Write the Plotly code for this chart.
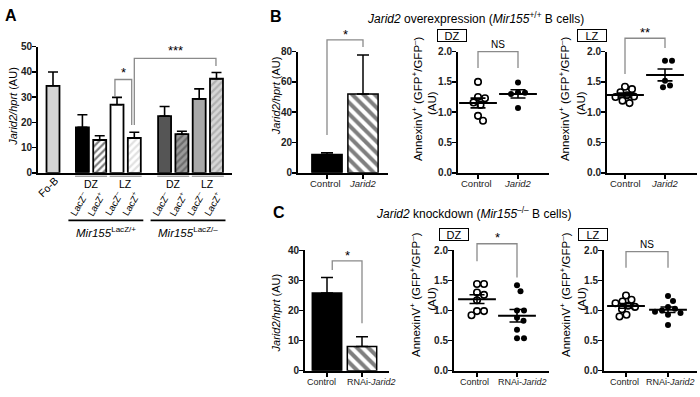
import numpy as np
import plotly.graph_objects as go

W, H = 700, 397
FONT = "Liberation Sans, Arial, sans-serif"

# ---------------- data ----------------
# Panel A : Jarid2/hprt by population
a_labels = ["Fo-B", "LacZ–", "LacZ+", "LacZ–", "LacZ+", "LacZ–", "LacZ+", "LacZ–", "LacZ+"]
a_zones = ["", "DZ", "DZ", "LZ", "LZ", "DZ", "DZ", "LZ", "LZ"]
a_geno = ["", "<i>Mir155</i><sup>LacZ/+</sup>", "<i>Mir155</i><sup>LacZ/–</sup>"]
a_means = [34.5, 18.0, 13.0, 27.0, 13.8, 22.5, 15.3, 29.3, 37.3]
a_sem = [5.5, 5.0, 1.7, 2.9, 2.3, 3.8, 1.2, 4.0, 2.5]

# Panel B : overexpression
b_labels = ["Control", "<i>Jarid2</i>"]
b_bar_means = [12.0, 52.0]
b_bar_sem = [1.3, 25.8]
b_dz_control = [1.50, 1.25, 1.23, 1.16, 1.12, 0.94, 0.86]
b_dz_jarid2 = [1.49, 1.33, 1.32, 1.30, 1.07]
b_lz_control = [1.42, 1.38, 1.33, 1.28, 1.26, 1.25, 1.19, 1.15]
b_lz_jarid2 = [1.85, 1.85, 1.52, 1.44, 1.41]

# Panel C : knockdown
c_labels = ["Control", "RNAi-<i>Jarid2</i>"]
c_bar_means = [25.8, 8.0]
c_bar_sem = [5.2, 3.3]
c_dz_control = [1.44, 1.44, 1.30, 1.26, 1.17, 0.99, 0.99, 0.92]
c_dz_rnai = [1.42, 1.32, 1.00, 1.00, 0.88, 0.83, 0.68, 0.54, 0.54]
c_lz_control = [1.25, 1.18, 1.15, 1.12, 1.08, 1.06, 1.02, 0.93, 0.90]
c_lz_rnai = [1.24, 1.16, 1.06, 1.03, 1.00, 0.98, 0.96, 0.93, 0.76]

# ---------------- geometry (pixels) ----------------
def fx(px):
    return px / W

def fy(py):
    return 1 - py / H

# A bar positions (category index with gaps between groups)
a_x = [0.0] + [i + 0.7 for i in range(1, 5)] + [i + 1.45 for i in range(5, 9)]

panels = {}
def add_panel(name, ax, x0, x1, yt, yb, xr, yr):
    panels[name] = dict(ax=ax, x0=x0, x1=x1, yt=yt, yb=yb, xr=xr, yr=yr)

def cat_range(x0, x1, c0, c1):
    u = c1 - c0
    return ((x0 - c0) / u, (x1 - c0) / u)

add_panel("A", 1, 38, 232, 42, 172, ((38 - 53) / 17.3, (232 - 53) / 17.3), (0, 50))
add_panel("B1", 2, 298, 388, 47, 172, cat_range(298, 388, 327, 363), (0, 80))
add_panel("B2", 3, 458, 549, 47, 172, cat_range(458, 549, 478, 518), (0, 2))
add_panel("B3", 4, 607, 697, 47, 172, cat_range(607, 697, 625, 665), (0, 2))
add_panel("C1", 5, 305, 389, 252, 376, cat_range(305, 389, 327, 362), (0, 40))
add_panel("C2", 6, 454, 549, 252, 376, cat_range(454, 549, 477, 517), (0, 2))
add_panel("C3", 7, 604, 697, 252, 376, cat_range(604, 697, 626, 668), (0, 2))

def px_of(p, xv):
    P = panels[p]
    return P["x0"] + (xv - P["xr"][0]) / (P["xr"][1] - P["xr"][0]) * (P["x1"] - P["x0"])

def py_of(p, yv):
    P = panels[p]
    return P["yb"] - (yv - P["yr"][0]) / (P["yr"][1] - P["yr"][0]) * (P["yb"] - P["yt"])

def ax_ids(p):
    n = panels[p]["ax"]
    s = "" if n == 1 else str(n)
    return "x" + s, "y" + s

fig = go.Figure()
shapes = []
annos = []

def text(px, py, t, size=11, angle=0, xanchor="center", yanchor="middle", color="black", **kw):
    annos.append(dict(x=fx(px), y=fy(py), xref="paper", yref="paper", text=t, showarrow=False,
                      font=dict(family=FONT, size=size, color=color), textangle=angle,
                      xanchor=xanchor, yanchor=yanchor, **kw))

def line(px0, py0, px1, py1, color="black", width=1.0):
    shapes.append(dict(type="line", xref="paper", yref="paper", x0=fx(px0), y0=fy(py0),
                       x1=fx(px1), y1=fy(py1), line=dict(color=color, width=width)))

def bracket(p, xl, xr, ytop, yl, yr, label, size=12, gap=6):
    pts = [(px_of(p, xl), py_of(p, yl)), (px_of(p, xl), py_of(p, ytop)),
           (px_of(p, xr), py_of(p, ytop)), (px_of(p, xr), py_of(p, yr))]
    path = "M " + " L ".join(f"{fx(a):.5f},{fy(b):.5f}" for a, b in pts)
    shapes.append(dict(type="path", xref="paper", yref="paper", path=path,
                       line=dict(color="#8a8a8a", width=1.3)))
    text((pts[1][0] + pts[2][0]) / 2, pts[1][1] - gap, label, size=size)

# ---------------- Panel A bars ----------------
a_fill = ["#d4d4d4", "#000000", "#ffffff", "#ffffff", "#ffffff", "#555555", "#9a9a9a", "#a9a9a9", "#d6d6d6"]
a_pat = ["", "", "/", "", "/", "", "/", "", "/"]
a_patfg = ["", "", "#000000", "", "#c4c4c4", "", "#404040", "", "#8c8c8c"]
xa, ya = ax_ids("A")
for i in range(len(a_means)):
    pat = dict(shape=a_pat[i], fgcolor=a_patfg[i] or None, bgcolor=a_fill[i], size=5, solidity=0.45) if a_pat[i] else None
    fig.add_trace(go.Bar(x=[a_x[i]], y=[a_means[i]], width=0.75, xaxis=xa, yaxis=ya,
                         marker=dict(color=a_fill[i], line=dict(color="black", width=1.8), pattern=pat),
                         error_y=dict(type="data", array=[a_sem[i]], arrayminus=[0], symmetric=False,
                                      color="black", thickness=1.6, width=5)))

# A labels under the axis
text(px_of("A", a_x[0]) - 5, 187, "Fo-B", size=10.5, angle=-45)
for i in range(1, len(a_x)):
    sign = a_labels[i][-1]
    text(px_of("A", a_x[i]) - 4, 204, "LacZ<sup>" + sign + "</sup>", size=9.5, angle=-60)
for g in range(2):
    idx = [1 + 4 * g + k for k in range(4)]
    for pair in (idx[:2], idx[2:]):
        cx = (px_of("A", a_x[pair[0]]) + px_of("A", a_x[pair[1]])) / 2
        line(cx - 16, 175.5, cx + 16, 175.5, color="#7a7a7a", width=1)
        text(cx, 184, a_zones[pair[0]], size=10.5)
    gl = px_of("A", a_x[idx[0]]) - 14
    gr = px_of("A", a_x[idx[-1]]) + 9
    line(gl, 221, gr, 221, color="black", width=1.8)
    text((gl + gr) / 2, 233, a_geno[g + 1], size=11.5)

bracket("A", 3.58, 4.55, 37.0, 30.5, 19.0, "*", size=13, gap=7)
bracket("A", 4.7, 9.42, 45.4, 19.0, 42.4, "***", size=13, gap=8)

# ---------------- B1 / C1 bars ----------------
def bar_panel(p, means, sems):
    xa_, ya_ = ax_ids(p)
    fills = ["#000000", "#ffffff"]
    for i in range(2):
        pat = dict(shape="\\", fgcolor="black", bgcolor="white", size=8, solidity=0.5) if i == 1 else None
        fig.add_trace(go.Bar(x=[i], y=[means[i]], width=0.84, xaxis=xa_, yaxis=ya_,
                             marker=dict(color=fills[i], line=dict(color="black", width=1.5), pattern=pat),
                             error_y=dict(type="data", array=[sems[i]], arrayminus=[0], symmetric=False,
                                          color="black", thickness=1.5, width=6)))

bar_panel("B1", b_bar_means, b_bar_sem)
bar_panel("C1", c_bar_means, c_bar_sem)
bracket("B1", 0, 1, 87.7, 25.0, 83.0, "*", size=13, gap=6)
bracket("C1", 0.15, 1, 36.5, 33.5, 15.8, "*", size=13, gap=6)

# ---------------- scatter panels ----------------
def beeswarm(vals, ppu_x, ppu_y, d=7.0):
    vals = np.asarray(vals, float)
    order = np.argsort(-vals)
    placed = []
    off = np.zeros(len(vals))
    cands = [0.0]
    for k in range(1, 80):
        cands += [k * 0.5, -k * 0.5]
    for i in order:
        y = vals[i] * ppu_y
        for c in cands:
            if all((c - px) ** 2 + (y - py) ** 2 >= d * d for px, py in placed):
                placed.append((c, y))
                off[i] = c / ppu_x
                break
    return off

def scatter_panel(p, groups):
    xa_, ya_ = ax_ids(p)
    P = panels[p]
    ppu_x = (P["x1"] - P["x0"]) / (P["xr"][1] - P["xr"][0])
    ppu_y = (P["yb"] - P["yt"]) / (P["yr"][1] - P["yr"][0])
    for gi, vals in enumerate(groups):
        off = beeswarm(vals, ppu_x, ppu_y)
        xs = gi + off
        if gi == 0:
            mk = dict(symbol="circle-open", size=6.5, color="black", line=dict(width=1.6, color="black"))
        else:
            mk = dict(symbol="circle", size=6, color="black")
        fig.add_trace(go.Scatter(x=xs, y=vals, mode="markers", marker=mk, xaxis=xa_, yaxis=ya_))
        m = float(np.mean(vals))
        se = float(np.std(vals, ddof=1) / np.sqrt(len(vals)))
        fig.add_trace(go.Scatter(x=[gi], y=[m], mode="markers", xaxis=xa_, yaxis=ya_,
                                 marker=dict(symbol="line-ew", size=27, line=dict(width=2, color="black")),
                                 error_y=dict(type="data", array=[se], color="black", thickness=1.6, width=7.5)))

scatter_panel("B2", [b_dz_control, b_dz_jarid2])
scatter_panel("B3", [b_lz_control, b_lz_jarid2])
scatter_panel("C2", [c_dz_control, c_dz_rnai])
scatter_panel("C3", [c_lz_control, c_lz_rnai])

bracket("B2", 0, 1, 2.0, 1.73, 1.73, "NS", size=10, gap=7)
bracket("B3", 0, 1, 2.22, 1.63, 2.06, "**", size=13, gap=6)
bracket("C2", 0, 1, 2.11, 1.82, 1.55, "*", size=13, gap=6)
bracket("C3", 0, 1, 1.98, 1.71, 1.71, "NS", size=10, gap=7)

# ---------------- axes ----------------
layout_axes = {}
tick_info = {
    "A": (10, None), "B1": (20, None), "B2": (0.5, ".1f"), "B3": (0.5, ".1f"),
    "C1": (10, None), "C2": (0.5, ".1f"), "C3": (0.5, ".1f"),
}
# x tick label centres (px) for the B/C panels
xlab_pos = {
    "B1": ((325, 363), 183), "B2": ((477, 518), 183), "B3": ((625, 665), 183),
    "C1": ((321, 371), 388), "C2": ((474, 522), 388), "C3": ((624, 670), 388),
}
for p, P in panels.items():
    n = P["ax"]
    s = "" if n == 1 else str(n)
    dt, fmt = tick_info[p]
    xdict = dict(domain=[fx(P["x0"]), fx(P["x1"])], range=list(P["xr"]), anchor="y" + s,
                 showline=True, linecolor="black", linewidth=2, showgrid=False, zeroline=False,
                 fixedrange=True)
    if p == "A":
        xdict.update(showticklabels=False, ticks="")
    else:
        xdict.update(tickmode="array", tickvals=[0, 1], showticklabels=False, ticks="outside",
                     ticklen=4, tickwidth=1.5, tickcolor="black")
        lab = b_labels if p.startswith("B") else c_labels
        (c0, c1), yy = xlab_pos[p]
        fs = 9.5 if p.startswith("B") else 9
        text(c0, yy, lab[0], size=fs, color="#222")
        text(c1, yy, lab[1], size=fs, color="#222")
    ydict = dict(domain=[fy(P["yb"]), fy(P["yt"])], range=list(P["yr"]), anchor="x" + s,
                 showline=True, linecolor="black", linewidth=2, showgrid=False, zeroline=False,
                 ticks="outside", ticklen=4, tickwidth=1.5, tickcolor="black", dtick=dt, tick0=0,
                 ticklabelstandoff=-2,
                 tickfont=dict(family=FONT, size=10, color="#222", weight="bold"), fixedrange=True)
    if fmt:
        ydict["tickformat"] = fmt
    layout_axes["xaxis" + s] = xdict
    layout_axes["yaxis" + s] = ydict

# ---------------- axis titles / panel text ----------------
text(13, 104, "<i>Jarid2/hprt</i> (AU)", size=11, angle=-90)
text(276, 93, "<i>Jarid2/hprt</i> (AU)", size=11, angle=-90)
text(276, 317, "<i>Jarid2/hprt</i> (AU)", size=11, angle=-90)
ann_title = "AnnexinV<sup>+</sup> (GFP<sup>+</sup>/GFP<sup>–</sup>)"
for (x1, x2, yc) in [(417, 432, 96), (564, 581, 96), (415, 432, 298), (565, 582, 298)]:
    text(x1, yc, ann_title, size=11.5, angle=-90)
    text(x2, yc + 4, "(AU)", size=11.5, angle=-90)

for (cx, cy, lab) in [(452, 30.5, "DZ"), (592, 30.5, "LZ"), (454, 236, "DZ"), (593, 236, "LZ")]:
    text(cx, cy, lab, size=11, bordercolor="black", borderwidth=1, borderpad=0, width=28, height=11)

text(3, 10, "<b>A</b>", size=16, xanchor="left")
text(268, 11, "<b>B</b>", size=16, xanchor="left")
text(271, 213, "<b>C</b>", size=16, xanchor="left")
text(475, 12, "<i>Jarid2</i> overexpression (<i>Mir155</i><sup>+/+</sup> B cells)", size=12)
text(473, 213, "<i>Jarid2</i> knockdown (<i>Mir155</i><sup>–/–</sup> B cells)", size=12)

fig.update_layout(width=W, height=H, margin=dict(l=0, r=0, t=0, b=0),
                  paper_bgcolor="white", plot_bgcolor="white", showlegend=False,
                  barmode="overlay", shapes=shapes, annotations=annos, hovermode=False,
                  font=dict(family=FONT, color="black"), **layout_axes)

fig.write_html("out.html", config={"displayModeBar": False, "staticPlot": True},
               post_script="document.body.style.margin='0';document.body.style.overflow='hidden';")
